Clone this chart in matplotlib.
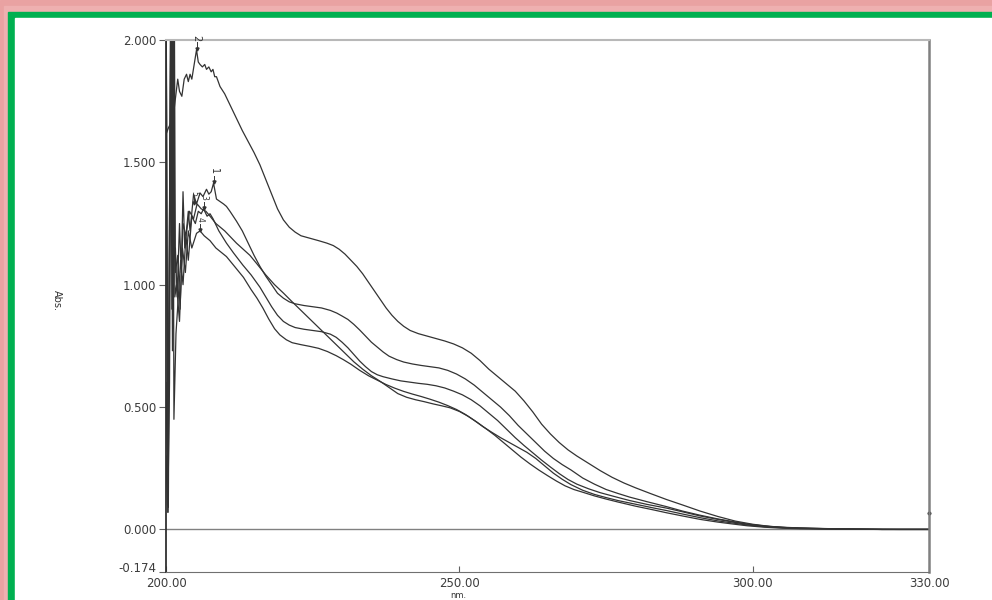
import matplotlib
matplotlib.use("Agg")
import matplotlib.pyplot as plt
from matplotlib.patches import Rectangle

# UV absorbance spectra, 200-330 nm
wl_2 = [200.0, 200.1, 200.4, 201.0, 201.4, 201.7, 202.0, 202.3, 202.7, 203.1, 203.5, 203.8,
        204.1, 204.4, 204.8, 205.2, 205.5, 205.8, 206.2, 206.6, 206.9, 207.3, 207.7,
        208.0, 208.3, 208.6, 209.2, 210.0, 211.0, 212.0, 213.0, 214.0, 215.0, 216.0,
        217.0, 218.0, 219.0, 220.0, 221.0, 222.0, 223.0, 224.5, 226.0, 227.4, 228.5,
        229.5, 230.5, 231.5, 232.5, 233.5, 234.5, 235.5, 236.5, 237.5, 238.5, 239.5,
        240.5, 241.6, 243.0, 244.5, 246.0, 247.5, 249.0, 250.5, 252.0, 253.5, 255.0,
        256.5, 258.0, 259.5, 261.0, 262.5, 264.0, 265.5, 267.0, 268.5, 270.0, 272.0,
        274.0, 276.0, 278.0, 280.0, 282.5, 285.3, 288.0, 291.0, 294.0, 297.0, 300.0,
        303.0, 306.0, 310.0, 315.0, 320.0, 325.0, 330.0]
abs_2 = [2.30, 1.62, 1.64, 1.67, 1.72, 1.78, 1.84, 1.79, 1.77, 1.84, 1.86, 1.83,
         1.86, 1.84, 1.90, 1.96, 1.91, 1.90, 1.89, 1.90, 1.88, 1.89, 1.87,
         1.88, 1.85, 1.85, 1.81, 1.78, 1.73, 1.68, 1.63, 1.585, 1.54, 1.49,
         1.43, 1.37, 1.31, 1.265, 1.235, 1.215, 1.200, 1.190, 1.180, 1.170, 1.160,
         1.145, 1.125, 1.100, 1.075, 1.045, 1.010, 0.975, 0.940, 0.905, 0.875, 0.850,
         0.830, 0.813, 0.800, 0.790, 0.780, 0.770, 0.758, 0.742, 0.720, 0.690, 0.655,
         0.625, 0.595, 0.565, 0.525, 0.480, 0.430, 0.390, 0.355, 0.325, 0.300, 0.270,
         0.240, 0.213, 0.190, 0.170, 0.147, 0.122, 0.100, 0.075, 0.053, 0.034, 0.021,
         0.012, 0.007, 0.004, 0.002, 0.001, 0.000, 0.000]

wl_1 = [200.0, 200.3, 200.6, 200.95, 201.25, 201.6, 201.9, 202.3, 202.6, 202.9, 203.2,
        203.6, 203.8, 204.1, 204.7, 205.2, 205.8, 206.3, 206.9, 207.3, 207.7, 208.1,
        208.6, 209.2, 209.8, 210.3, 210.9, 212.0, 213.0, 214.0, 215.0, 216.0, 217.0,
        218.0, 219.0, 220.0, 221.0, 222.0, 223.5, 225.0, 226.5, 228.0, 229.1, 230.0,
        231.0, 232.0, 233.0, 234.0, 235.0, 236.0, 237.0, 238.0, 239.3, 240.5, 242.0,
        243.5, 245.0, 246.5, 248.0, 249.5, 251.0, 252.5, 254.0, 255.5, 257.0, 258.5,
        260.0, 261.5, 263.0, 264.5, 266.0, 267.5, 269.0, 271.0, 273.0, 275.0, 277.0,
        279.0, 282.0, 285.3, 288.0, 291.0, 294.0, 296.6, 299.0, 302.0, 305.0, 308.0,
        315.0, 322.0, 330.0]
abs_1 = [2.30, 0.07, 0.60, 2.30, 1.10, 1.15, 0.95, 1.25, 1.05, 1.38, 1.15,
         1.25, 1.30, 1.22, 1.37, 1.33, 1.375, 1.36, 1.39, 1.37, 1.38, 1.415,
         1.35, 1.34, 1.33, 1.32, 1.30, 1.26, 1.22, 1.17, 1.12, 1.075, 1.035,
         1.000, 0.965, 0.945, 0.930, 0.922, 0.915, 0.910, 0.905, 0.895, 0.884, 0.872,
         0.858, 0.838, 0.815, 0.790, 0.765, 0.745, 0.725, 0.708, 0.694, 0.684, 0.676,
         0.670, 0.665, 0.660, 0.650, 0.635, 0.615, 0.590, 0.560, 0.530, 0.500, 0.465,
         0.425, 0.390, 0.355, 0.320, 0.290, 0.265, 0.243, 0.210, 0.185, 0.163, 0.147,
         0.132, 0.113, 0.093, 0.075, 0.058, 0.043, 0.032, 0.022, 0.014, 0.009, 0.006,
         0.002, 0.000, 0.000]

wl_3 = [200.0, 200.35, 200.8, 201.0, 201.15, 201.35, 201.7, 202.1, 202.5, 202.9, 203.4,
        203.8, 204.4, 205.0, 205.5, 206.0, 206.4, 207.0, 207.5, 208.0, 209.0, 210.3,
        211.5, 213.1, 214.5, 216.0, 217.0, 218.0, 219.0, 220.0, 221.0, 222.0, 223.5,
        225.0, 226.5, 228.0, 229.0, 230.0, 231.0, 232.0, 233.0, 234.0, 235.0, 236.0,
        237.0, 238.5, 240.0, 241.5, 243.0, 244.5, 246.0, 247.5, 249.0, 250.5, 252.0,
        253.5, 255.0, 256.5, 258.0, 259.5, 261.0, 262.5, 264.0, 265.5, 267.0, 268.5,
        270.0, 272.0, 274.0, 276.0, 279.0, 282.0, 285.3, 288.0, 291.0, 294.0, 296.6,
        299.0, 302.0, 305.0, 308.0, 315.0, 322.0, 330.0]
abs_3 = [0.60, 0.07, 2.30, 0.90, 2.30, 0.45, 0.80, 0.95, 1.10, 1.00, 1.20,
         1.10, 1.28, 1.25, 1.30, 1.29, 1.31, 1.28, 1.29, 1.27, 1.22, 1.17,
         1.13, 1.08, 1.04, 0.99, 0.95, 0.91, 0.875, 0.850, 0.835, 0.825, 0.818,
         0.813, 0.808, 0.798, 0.785, 0.765, 0.742, 0.715, 0.688, 0.665, 0.645, 0.632,
         0.624, 0.615, 0.607, 0.602, 0.597, 0.593, 0.587, 0.578, 0.565, 0.550, 0.530,
         0.505, 0.475, 0.445, 0.410, 0.375, 0.343, 0.313, 0.283, 0.255, 0.228, 0.204,
         0.185, 0.166, 0.150, 0.137, 0.118, 0.102, 0.087, 0.072, 0.055, 0.041, 0.030,
         0.021, 0.013, 0.008, 0.005, 0.002, 0.000, 0.000]

wl_4 = [200.0, 200.4, 200.85, 201.1, 201.3, 201.5, 201.8, 202.3, 202.8, 203.3, 203.8,
        204.4, 205.2, 205.8, 206.5, 207.5, 208.5, 210.3, 211.5, 213.2, 214.5, 215.5,
        216.5, 217.5, 218.5, 219.4, 220.5, 221.5, 223.0, 224.5, 226.0, 227.5, 229.0,
        230.2, 231.5, 233.0, 234.5, 236.0, 237.5, 239.0, 240.5, 242.0, 243.5, 245.0,
        246.5, 248.0, 249.5, 251.0, 252.5, 254.0, 255.5, 257.0, 258.5, 260.0, 261.5,
        263.0, 264.5, 266.0, 267.5, 269.0, 271.0, 273.0, 275.0, 277.0, 280.0, 283.0,
        285.3, 288.0, 291.0, 294.0, 296.6, 299.0, 302.0, 305.0, 308.0, 315.0, 322.0, 330.0]
abs_4 = [2.30, 0.09, 2.30, 0.73, 2.30, 0.95, 1.00, 0.85, 1.15, 1.05, 1.22,
         1.15, 1.21, 1.22, 1.20, 1.18, 1.15, 1.115, 1.08, 1.03, 0.98, 0.945,
         0.905, 0.860, 0.820, 0.795, 0.775, 0.763, 0.755, 0.748, 0.740, 0.727, 0.710,
         0.694, 0.675, 0.650, 0.628, 0.610, 0.592, 0.577, 0.564, 0.553, 0.543, 0.532,
         0.520, 0.506, 0.490, 0.470, 0.446, 0.420, 0.397, 0.375, 0.355, 0.335, 0.315,
         0.290, 0.260, 0.230, 0.205, 0.183, 0.160, 0.143, 0.130, 0.118, 0.103, 0.088,
         0.077, 0.063, 0.048, 0.035, 0.026, 0.018, 0.011, 0.007, 0.004, 0.001, 0.000, 0.000]

wl_5 = [200.0, 200.25, 200.9, 201.2, 201.4, 201.6, 202.0, 202.4, 202.9, 203.4, 204.0,
        204.7, 205.3, 206.0, 206.8, 207.5, 208.5, 210.0, 212.0, 214.3, 215.5, 217.0,
        218.5, 220.0, 221.5, 223.0, 224.5, 226.0, 227.5, 229.0, 230.5, 232.0, 233.5,
        235.0, 236.5, 238.0, 239.5, 241.0, 242.5, 244.0, 245.5, 247.0, 248.4, 250.0,
        251.5, 253.0, 254.5, 256.0, 257.5, 259.0, 260.5, 262.0, 263.5, 265.0, 266.5,
        268.0, 269.5, 271.0, 273.0, 275.0, 277.0, 280.0, 283.0, 285.3, 288.0, 291.0,
        294.0, 296.6, 299.0, 302.0, 305.0, 308.0, 315.0, 322.0, 330.0]
abs_5 = [0.30, 0.10, 2.30, 0.82, 2.30, 1.05, 1.12, 0.90, 1.25, 1.20, 1.30,
         1.27, 1.33, 1.31, 1.30, 1.28, 1.25, 1.22, 1.17, 1.12, 1.085, 1.040,
         1.000, 0.966, 0.930, 0.895, 0.860, 0.825, 0.790, 0.755, 0.720, 0.685, 0.655,
         0.628, 0.605, 0.580, 0.555, 0.540, 0.530, 0.522, 0.513, 0.505, 0.497, 0.482,
         0.462, 0.438, 0.412, 0.385, 0.355, 0.325, 0.295, 0.268, 0.243, 0.220, 0.198,
         0.178, 0.163, 0.152, 0.137, 0.124, 0.112, 0.095, 0.080, 0.068, 0.055, 0.041,
         0.030, 0.022, 0.015, 0.009, 0.005, 0.003, 0.001, 0.000, 0.000]

spectra = [(wl_2, abs_2), (wl_1, abs_1), (wl_3, abs_3), (wl_4, abs_4), (wl_5, abs_5)]

# picked peaks
peak_labels = ["2", "1", "5", "3", "4"]
peak_wl = [205.2, 208.1, 204.7, 206.4, 205.8]
peak_abs = [1.96, 1.415, 1.33, 1.31, 1.22]
peak_size = [7, 7, 5.5, 5.5, 5.5]

y_ticks = [-0.174, 0.0, 0.5, 1.0, 1.5, 2.0]
x_ticks = [200.0, 250.0, 300.0, 330.0]

W, H = 992, 600
fig = plt.figure(figsize=(W / 100, H / 100), dpi=100)

# page border: pink edge, green rule, white sheet
fig.add_artist(Rectangle((0, 0), 1, 1, transform=fig.transFigure, color="#e9a2a2", zorder=-4))
fig.add_artist(Rectangle((4 / W, 0), 1, 1 - 6 / H, transform=fig.transFigure,
                         color="#eeb0b0", zorder=-3))
fig.add_artist(Rectangle((8 / W, 0), 1, 1 - 12 / H, transform=fig.transFigure,
                         color="#00b050", zorder=-2))
fig.add_artist(Rectangle((15 / W, 0), 1, 1 - 18 / H, transform=fig.transFigure,
                         color="white", zorder=-1))

left, right, top, bottom = 166, 929, 40, 572
ax = fig.add_axes([left / W, 1 - bottom / H, (right - left) / W, (bottom - top) / H])
ax.patch.set_alpha(0)

for wl, ab in spectra:
    ax.plot(wl, ab, color="#333333", lw=0.9)

ax.axhline(0.0, color="#808080", lw=1.0, zorder=1)

for lab, xw, ya, fs in zip(peak_labels, peak_wl, peak_abs, peak_size):
    ax.plot([xw, xw], [ya, ya + 0.03], color="#333333", lw=0.7)
    ax.plot([xw], [ya + 0.005], marker="v", ms=2.2, color="#333333")
    ax.text(xw, ya + 0.035, lab, rotation=-90, ha="center", va="bottom",
            fontsize=fs, color="#333333", clip_on=False)

ax.plot([330.0], [0.068], marker="o", ms=1.8, color="black", clip_on=False)

ax.set_xlim(200, 330)
ax.set_ylim(-0.174, 2.0)
ax.set_xticks(x_ticks)
ax.set_xticklabels([f"{v:.2f}" for v in x_ticks])
ax.set_yticks(y_ticks)
ax.set_yticklabels([f"{v:.3f}" for v in y_ticks])
ax.tick_params(axis="x", direction="in", length=4, color="#606060", pad=3.5,
               labelsize=8.5, labelcolor="#3c3c3c")
ax.tick_params(axis="y", direction="out", length=5, color="#606060", pad=2,
               labelsize=8.5, labelcolor="#3c3c3c")
# lowest y label sits right on the bottom edge; keep it just above the x labels
ax.get_yticklabels()[0].set_verticalalignment("baseline")

ax.spines["left"].set_color("#303030")
ax.spines["left"].set_linewidth(1.3)
ax.spines["bottom"].set_color("#707070")
ax.spines["top"].set_color("#b8b8b8")
ax.spines["top"].set_linewidth(1.5)
ax.spines["right"].set_color("#808080")
ax.spines["right"].set_linewidth(1.8)

fig.text(458 / W, 1 - 596 / H, "nm.", ha="center", va="center", fontsize=6, color="#333333")
fig.text(57 / W, 1 - 300 / H, "Abs.", ha="center", va="center", rotation=-90,
         fontsize=7, color="#333333")

fig.savefig("out.png", dpi=100)
